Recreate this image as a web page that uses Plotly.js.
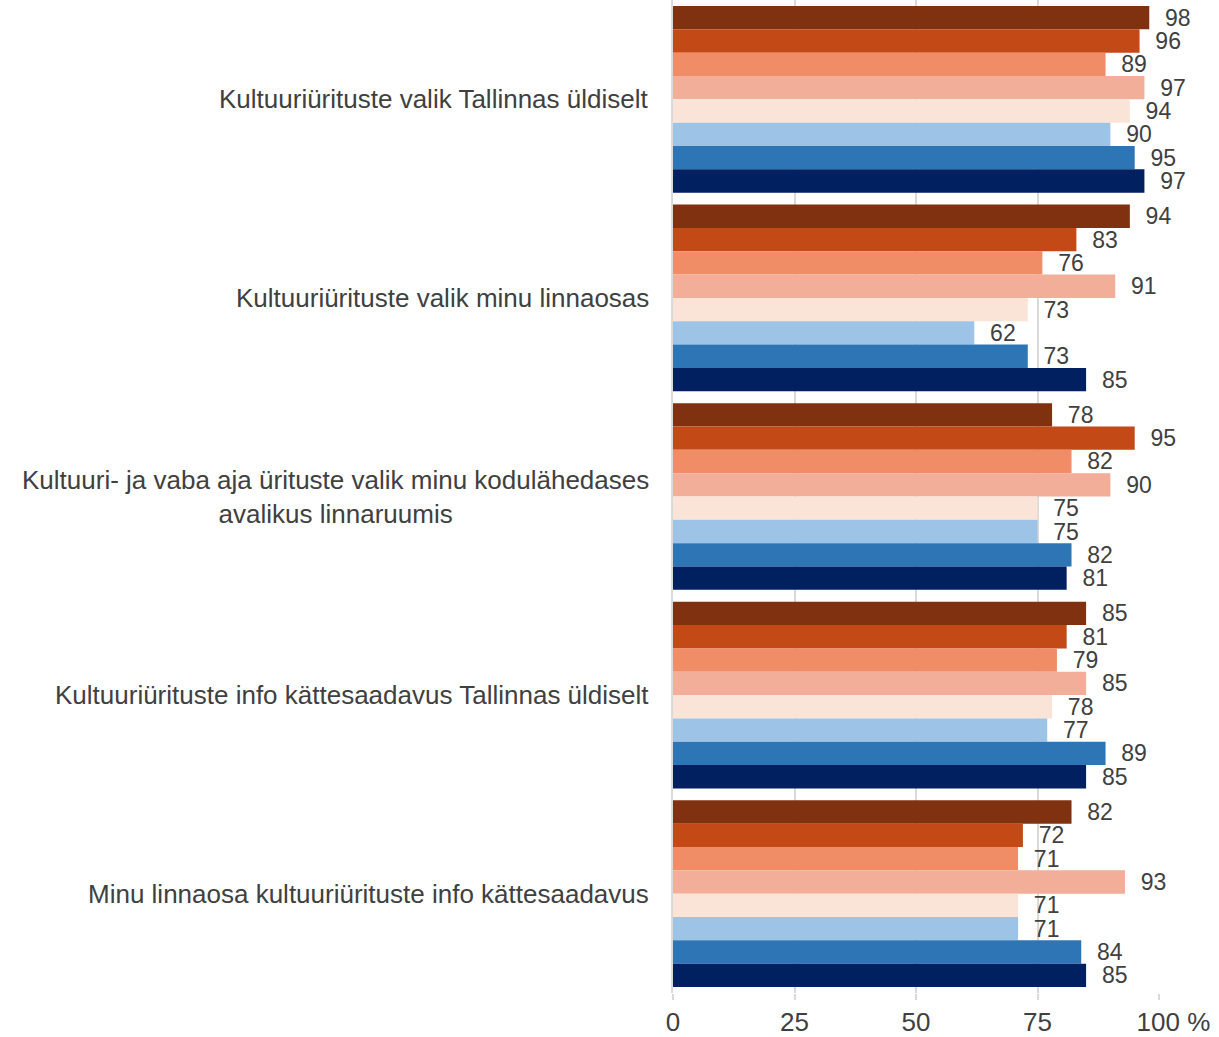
<!DOCTYPE html>
<html>
<head>
<meta charset="utf-8">
<script src="https://cdn.plot.ly/plotly-3.0.1.min.js"></script>
<style>html,body{margin:0;padding:0;background:#fff;}#chart{width:1219px;height:1037px;}</style>
</head>
<body>
<div id="chart"></div>
<script>
const categories = [
  "Kultuuriürituste valik Tallinnas üldiselt",
  "Kultuuriürituste valik minu linnaosas",
  "Kultuuri- ja vaba aja ürituste valik minu kodulähedases<br>avalikus linnaruumis",
  "Kultuuriürituste info kättesaadavus Tallinnas üldiselt",
  "Minu linnaosa kultuuriürituste info kättesaadavus"
];
const seriesNames = ["Rühm 1", "Rühm 2", "Rühm 3", "Rühm 4", "Rühm 5", "Rühm 6", "Rühm 7", "Rühm 8"];
const seriesColors = ["#80310f", "#c34a16", "#f08c66", "#f2ae98", "#fae4d7", "#9dc3e6", "#2e75b6", "#002060"];
const s1 = [98, 94, 78, 85, 82];
const s2 = [96, 83, 95, 81, 72];
const s3 = [89, 76, 82, 79, 71];
const s4 = [97, 91, 90, 85, 93];
const s5 = [94, 73, 75, 78, 71];
const s6 = [90, 62, 75, 77, 71];
const s7 = [95, 73, 82, 89, 84];
const s8 = [97, 85, 81, 85, 85];
const seriesValues = [s1, s2, s3, s4, s5, s6, s7, s8];
const tickVals = [0, 25, 50, 75, 100];
const tickText = ["0", "25", "50", "75", "\u00a0\u00a0\u00a0\u00a0100 %"];

const textColor = "#404040";
const font = "Liberation Sans, Arial, sans-serif";

const traces = seriesValues.map((vals, i) => ({
  type: "bar",
  orientation: "h",
  name: seriesNames[i],
  x: vals,
  y: categories,
  marker: { color: seriesColors[i], line: { width: 0 } },
  text: vals.map(v => "\u00a0\u00a0" + v),
  textposition: "outside",
  constraintext: "none",
  textfont: { family: font, size: 23, color: textColor },
  cliponaxis: false,
  hoverinfo: "x+name"
}));

const annotations = categories.map(c => ({
  xref: "paper", yref: "y", x: 0, y: c,
  xanchor: "right", yanchor: "middle", xshift: -22,
  text: c, showarrow: false, align: "center",
  font: { family: font, size: 26, color: textColor }
}));

const layout = {
  width: 1219, height: 1037,
  margin: { l: 673, r: 60, t: 0, b: 44, pad: 0 },
  paper_bgcolor: "#fff", plot_bgcolor: "#fff",
  barmode: "group", bargap: 0.06, bargroupgap: 0,
  showlegend: false,
  font: { family: font, color: textColor },
  xaxis: {
    range: [0, 100], tickvals: tickVals, ticktext: tickText,
    showgrid: true, gridcolor: "#d9d9d9", gridwidth: 2,
    zeroline: false, showline: false,
    ticks: "outside", ticklen: 6, tickcolor: "#d9d9d9", tickwidth: 2,
    tickfont: { family: font, size: 26, color: textColor },
    fixedrange: true
  },
  yaxis: {
    type: "category", categoryorder: "array", categoryarray: categories,
    autorange: "reversed", showticklabels: false, ticks: "",
    showgrid: false, zeroline: false,
    showline: true, linecolor: "#d9d9d9", linewidth: 2,
    fixedrange: true
  },
  annotations: annotations
};

Plotly.newPlot("chart", traces, layout, { displayModeBar: false, staticPlot: true });
</script>
</body>
</html>
